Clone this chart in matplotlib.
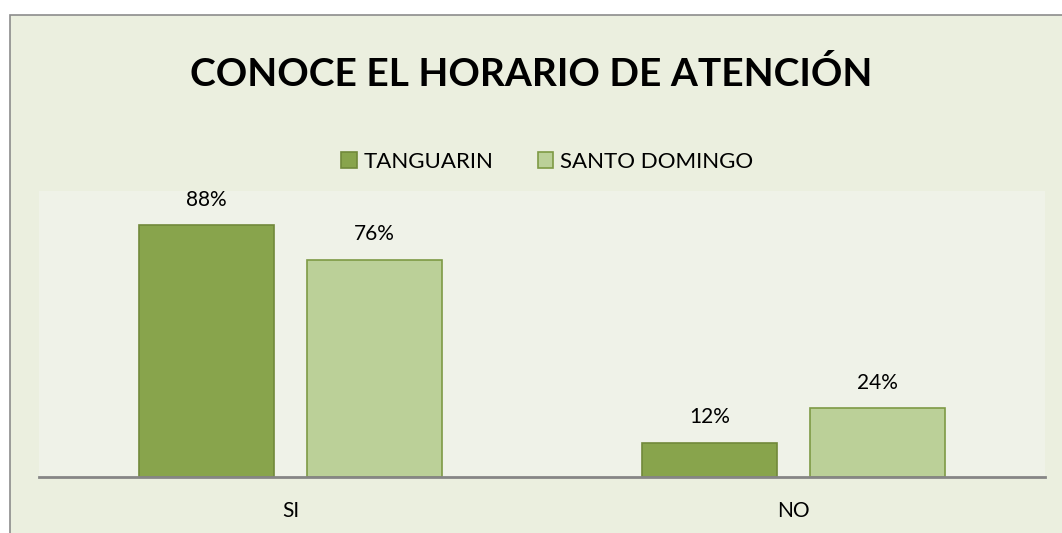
import numpy as np
import matplotlib
matplotlib.use("Agg")
import matplotlib.pyplot as plt
from matplotlib.patches import Rectangle

plt.rcParams['font.family'] = ['Lato', 'DejaVu Sans']

# datos
categorias = ['SI', 'NO']
tanguarin = [0.88, 0.12]
santo_domingo = [0.76, 0.24]
series = ['TANGUARIN', 'SANTO DOMINGO']

W, H = 1062, 533
fig = plt.figure(figsize=(W / 100, H / 100), dpi=100, facecolor='white')

# marco del grafico
fig.patches.append(Rectangle((10 / W, -0.1), 1.2, (H - 15) / H + 0.1,
                             transform=fig.transFigure, facecolor='#EBEFDF',
                             edgecolor='#8C8C8C', linewidth=1.2, zorder=-10))

ax = fig.add_axes([39 / W, (H - 477) / H, (1045 - 39) / W, (477 - 191) / H])
ax.set_facecolor('#EFF2E8')

x = np.arange(len(categorias))
ancho = 0.268
desp = 0.167
b1 = ax.bar(x - desp, tanguarin, ancho, color='#88A44C', edgecolor='#71893A',
            linewidth=1.2, label=series[0])
b2 = ax.bar(x + desp, santo_domingo, ancho, color='#BBD098', edgecolor='#7E9A45',
            linewidth=1.2, label=series[1])

for barras in (b1, b2):
    for b in barras:
        ax.text(b.get_x() + b.get_width() / 2, b.get_height() + 0.055,
                '{:.0f}%'.format(b.get_height() * 100), ha='center', va='bottom',
                fontsize=15)

ax.set_xlim(-0.5, 1.5)
ax.set_ylim(0, 1)
ax.set_xticks(x)
ax.set_xticklabels(categorias, fontsize=15)
ax.tick_params(axis='x', length=0, pad=17)
ax.set_yticks([])
for s in ['top', 'right', 'left']:
    ax.spines[s].set_visible(False)
ax.spines['bottom'].set_color('#868686')
ax.spines['bottom'].set_linewidth(2)

fig.text(531 / W, (H - 74) / H, 'CONOCE EL HORARIO DE ATENCIÓN', ha='center',
         va='center', fontsize=28, fontweight='bold')

fig.legend(handles=[b1, b2], loc='center', bbox_to_anchor=(547 / W, (H - 162) / H),
           ncol=2, frameon=False, fontsize=16, handlelength=0.7, handleheight=0.7,
           handletextpad=0.3, columnspacing=2.0)

fig.savefig('out.png', dpi=100, facecolor='white')
